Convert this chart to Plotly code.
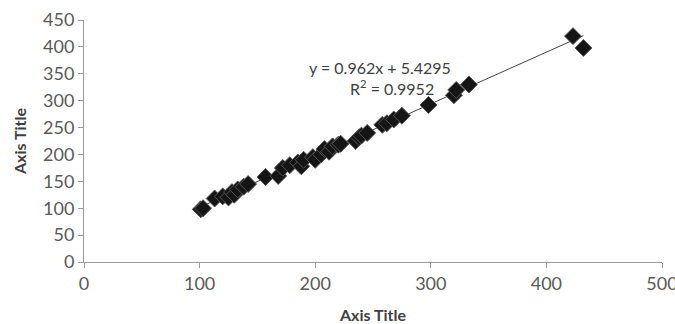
import plotly.graph_objects as go

x_vals = [101, 103, 113, 120, 125, 128, 130, 133, 138, 142, 157, 168, 172, 178, 185, 188, 190,
          198, 200, 205, 208, 212, 215, 220, 222, 235, 238, 240, 245, 258, 262, 268, 275,
          298, 320, 322, 333, 423, 432]
y_vals = [98, 100, 118, 122, 120, 130, 125, 135, 140, 145, 158, 160, 175, 180, 185, 178, 190,
          195, 190, 200, 210, 205, 215, 218, 220, 225, 232, 235, 240, 255, 258, 265, 272,
          292, 310, 320, 330, 420, 398]
slope = 0.962
intercept = 5.4295
r2 = 0.9952
x_ticks = [0, 100, 200, 300, 400, 500]
y_ticks = [0, 50, 100, 150, 200, 250, 300, 350, 400, 450]

fx = [min(x_vals), max(x_vals)]
fy = [slope * v + intercept for v in fx]

fig = go.Figure()
fig.add_trace(go.Scatter(x=fx, y=fy, mode="lines", line=dict(color="#444", width=1), hoverinfo="skip"))
fig.add_trace(go.Scatter(x=x_vals, y=y_vals, mode="markers",
                         marker=dict(symbol="diamond", size=13, color="#151515",
                                     line=dict(color="#555", width=1))))

font_family = "Lato, Open Sans, sans-serif"
fig.update_layout(
    width=675, height=324,
    margin=dict(l=84, r=13, t=20, b=62),
    paper_bgcolor="white", plot_bgcolor="white",
    showlegend=False,
    font=dict(family=font_family, color="#595959", size=18),
    xaxis=dict(range=[0, 500], tickvals=x_ticks, showgrid=False, zeroline=False,
               showline=True, linecolor="#999", linewidth=1, ticks="outside",
               tickcolor="#999", ticklen=5, ticklabeloverflow="allow", automargin=False,
               title=dict(text="<b>Axis Title</b>", font=dict(size=16, color="#404040"), standoff=18)),
    yaxis=dict(range=[0, 450], tickvals=y_ticks, showgrid=False, zeroline=False,
               showline=True, linecolor="#999", linewidth=1, ticks="outside",
               tickcolor="#999", ticklen=5, ticklabeloverflow="allow", automargin=False,
               title=dict(text="<b>Axis Title</b>", font=dict(size=16, color="#404040"), standoff=12)),
)
fig.add_annotation(x=256, y=361, xref="x", yref="y",
                   text=f"y = {slope}x + {intercept}", showarrow=False,
                   font=dict(size=16, color="#404040", family=font_family))
fig.add_annotation(x=266, y=324, xref="x", yref="y",
                   text=f"R<sup>2</sup> = {r2}", showarrow=False,
                   font=dict(size=16, color="#404040", family=font_family))

fig.write_html("out.html")
